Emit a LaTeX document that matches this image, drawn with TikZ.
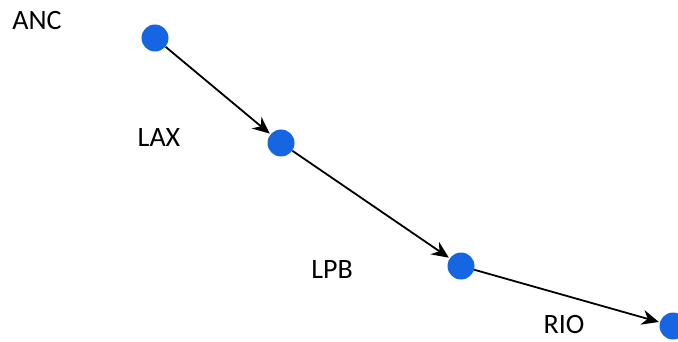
\documentclass[tikz,border=0pt]{standalone}
\usepackage{fontspec}
\setmainfont{Carlito}
\usetikzlibrary{arrows.meta}
\definecolor{dotblue}{RGB}{22,102,228}

\begin{document}
\begin{tikzpicture}[x=1pt, y=-1pt,
	airport/.style={circle, fill=dotblue, inner sep=0pt, minimum size=27pt},
	city/.style={font=\fontsize{28}{30}\selectfont, inner sep=0pt, anchor=base},
	route/.style={-{Stealth[length=17pt, width=15pt]}, line width=1.8pt, shorten >=1pt}]
	\useasboundingbox (0,0) rectangle (678,342);
	\clip (0,0) rectangle (678,342);

	\node[airport] (ANC) at (155, 38) {}; % anchorage
	\node[airport] (LAX) at (281, 143) {}; % los angeles
	\node[airport] (LPB) at (461, 266) {}; % la paz
	\node[airport] (RIO) at (673, 326) {}; % rio

	\node[city] (tANC) at (37, 30) {ANC};
	\node[city] (tLAX) at (159, 147) {LAX};
	\node[city] (tLPB) at (332, 278) {LPB};
	\node[city] (tRIO) at (564, 333) {RIO};

	\draw[route] (ANC) -- (LAX);
	\draw[route] (LAX) -- (LPB);
	\draw[route] (LPB) -- (RIO);
\end{tikzpicture}
\end{document}
